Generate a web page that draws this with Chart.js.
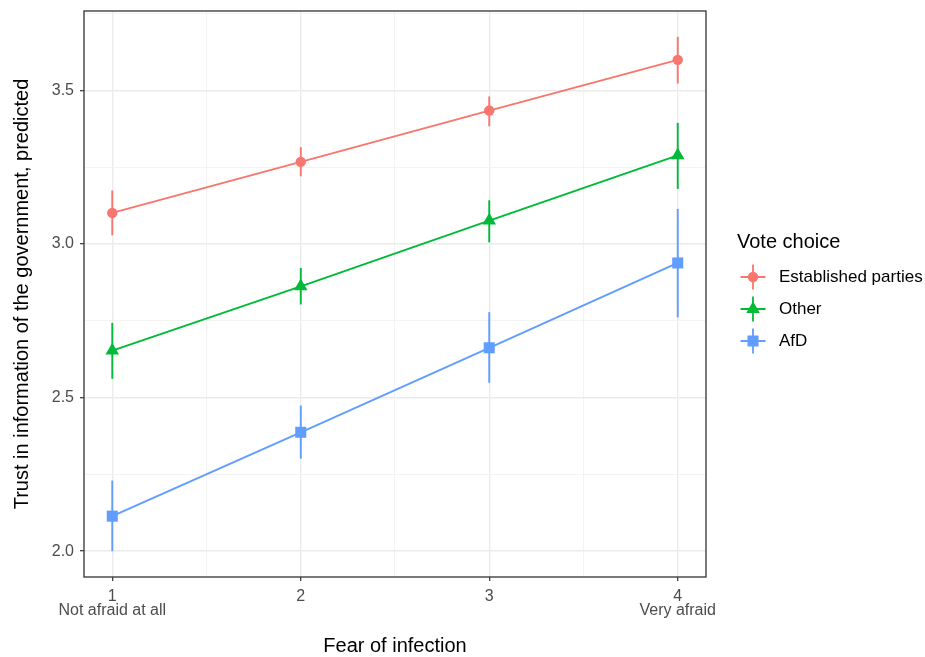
<!DOCTYPE html>
<html>
<head>
<meta charset="utf-8">
<title>Trust in information of the government</title>
<script src="https://cdn.jsdelivr.net/npm/chart.js@4.4.1/dist/chart.umd.min.js"></script>
<style>
  html, body { margin: 0; padding: 0; background: #fff; }
  canvas { display: block; }
</style>
</head>
<body>
<canvas id="trustChart" width="925" height="657"></canvas>
<script>
// x axis: fear of infection (1-4)
var fearLevels = [1, 2, 3, 4];
var fearTickNumbers = ['1', '2', '3', '4'];
var fearTickNotes = ['Not afraid at all', '', '', 'Very afraid'];
var fearMinorTicks = [1.5, 2.5, 3.5];

// y axis ticks
var trustTicks = [2.0, 2.5, 3.0, 3.5];
var trustMinorTicks = [2.25, 2.75, 3.25, 3.75];

var voteGroups = ['Established parties', 'Other', 'AfD'];
var legendTitle = 'Vote choice';

// predicted trust with confidence interval
var establishedFit = [3.101, 3.267, 3.434, 3.599];
var establishedLow = [3.028, 3.220, 3.383, 3.522];
var establishedHigh = [3.174, 3.315, 3.480, 3.674];

var otherFit = [2.653, 2.862, 3.076, 3.288];
var otherLow = [2.561, 2.803, 3.005, 3.179];
var otherHigh = [2.743, 2.922, 3.142, 3.394];

var afdFit = [2.114, 2.387, 2.662, 2.938];
var afdLow = [2.000, 2.301, 2.548, 2.761];
var afdHigh = [2.230, 2.474, 2.778, 3.114];

var FONT = '"Liberation Sans", Arial, Helvetica, sans-serif';
Chart.defaults.font.family = FONT;

function makePoints(fit, low, high) {
    return fearLevels.map(function (x, i) {
        return { x: x, y: fit[i], low: low[i], high: high[i] };
    });
}

function makeDataset(label, color, style, radius, fit, low, high) {
    return {
        label: label,
        data: makePoints(fit, low, high),
        borderColor: color,
        backgroundColor: color,
        borderWidth: 1.9,
        pointStyle: style,
        pointRadius: radius,
        pointHoverRadius: radius,
        pointBorderWidth: 0,
        pointBackgroundColor: color,
        fill: false,
        tension: 0
    };
}

// draw one marker the way chart.js does
function drawMarker(ctx, style, r, x, y) {
    ctx.beginPath();
    if (style === 'triangle') {
        var rad = 0;
        for (var k = 0; k < 3; k++) {
            var px = x + Math.sin(rad) * r, py = y - Math.cos(rad) * r;
            if (k === 0) ctx.moveTo(px, py); else ctx.lineTo(px, py);
            rad += Math.PI * 2 / 3;
        }
        ctx.closePath();
    } else if (style === 'rect') {
        var s = r / Math.SQRT2;
        ctx.rect(x - s, y - s, 2 * s, 2 * s);
    } else {
        ctx.arc(x, y, r, 0, Math.PI * 2);
    }
    ctx.fill();
}

// vertical interval lines
var errorBarPlugin = {
    id: 'errorBars',
    beforeDatasetsDraw: function (chart) {
        var ctx = chart.ctx;
        var xs = chart.scales.x, ys = chart.scales.y;
        chart.data.datasets.forEach(function (ds) {
            ctx.save();
            ctx.strokeStyle = ds.borderColor;
            ctx.lineWidth = 1.9;
            ds.data.forEach(function (pt) {
                var x = xs.getPixelForValue(pt.x);
                ctx.beginPath();
                ctx.moveTo(x, ys.getPixelForValue(pt.low));
                ctx.lineTo(x, ys.getPixelForValue(pt.high));
                ctx.stroke();
            });
            ctx.restore();
        });
    }
};

// panel border and legend
var framePlugin = {
    id: 'frameAndLegend',
    afterDraw: function (chart) {
        var ctx = chart.ctx, a = chart.chartArea;
        ctx.save();
        ctx.strokeStyle = '#333333';
        ctx.lineWidth = 1.3;
        ctx.strokeRect(a.left, a.top, a.right - a.left, a.bottom - a.top);

        ctx.fillStyle = '#000';
        ctx.textAlign = 'left';
        ctx.textBaseline = 'middle';
        ctx.font = '20px ' + FONT;
        ctx.fillText(legendTitle, 737, 242);

        chart.data.datasets.forEach(function (ds, i) {
            var cx = 753, cy = 277 + i * 32;
            ctx.strokeStyle = ds.borderColor;
            ctx.fillStyle = ds.borderColor;
            ctx.lineWidth = 1.8;
            ctx.beginPath();
            ctx.moveTo(cx - 12.5, cy);
            ctx.lineTo(cx + 12.5, cy);
            ctx.moveTo(cx, cy - 12.5);
            ctx.lineTo(cx, cy + 12.5);
            ctx.stroke();
            drawMarker(ctx, ds.pointStyle, ds.pointRadius, cx, cy);
            ctx.fillStyle = '#000';
            ctx.font = '17px ' + FONT;
            ctx.fillText(ds.label, 779, cy);
        });
        ctx.restore();
    }
};

function isMajorX(v) { return fearLevels.indexOf(v) >= 0; }
function isMajorY(v) { return trustTicks.indexOf(v) >= 0; }

var ctx = document.getElementById('trustChart').getContext('2d');
var trustChart = new Chart(ctx, {
    type: 'line',
    data: {
        datasets: [
            makeDataset(voteGroups[0], '#F8766D', 'circle', 5.2, establishedFit, establishedLow, establishedHigh),
            makeDataset(voteGroups[1], '#00BA38', 'triangle', 7.8, otherFit, otherLow, otherHigh),
            makeDataset(voteGroups[2], '#619CFF', 'rect', 7.8, afdFit, afdLow, afdHigh)
        ]
    },
    options: {
        responsive: false,
        devicePixelRatio: 1,
        animation: false,
        layout: { padding: { top: 11, right: 219, bottom: 0, left: 0 } },
        plugins: { legend: { display: false }, tooltip: { enabled: false } },
        scales: {
            x: {
                type: 'linear',
                min: 0.85,
                max: 4.15,
                afterBuildTicks: function (scale) {
                    scale.ticks = fearLevels.concat(fearMinorTicks)
                        .sort(function (a, b) { return a - b; })
                        .map(function (v) { return { value: v }; });
                },
                afterFit: function (scale) {
                    scale.height = 80;
                    scale.paddingLeft = 0;
                    scale.paddingRight = 0;
                },
                border: { display: false },
                grid: {
                    color: function (c) { return isMajorX(c.tick.value) ? '#EBEBEB' : '#F2F2F2'; },
                    lineWidth: function (c) { return isMajorX(c.tick.value) ? 1.4 : 0.9; },
                    tickColor: function (c) { return isMajorX(c.tick.value) ? '#333333' : 'rgba(0,0,0,0)'; },
                    tickLength: 4,
                    tickWidth: 1.2
                },
                ticks: {
                    autoSkip: false,
                    maxRotation: 0,
                    padding: 8,
                    color: '#4D4D4D',
                    font: { size: 16, lineHeight: 0.9 },
                    callback: function (value) {
                        var i = fearLevels.indexOf(value);
                        if (i < 0) return '';
                        return fearTickNotes[i] ? [fearTickNumbers[i], fearTickNotes[i]] : fearTickNumbers[i];
                    }
                },
                title: {
                    display: true,
                    text: 'Fear of infection',
                    color: '#000',
                    font: { size: 20, lineHeight: 1 },
                    padding: { top: 0, bottom: 1 }
                }
            },
            y: {
                type: 'linear',
                min: 1.916,
                max: 3.758,
                afterBuildTicks: function (scale) {
                    scale.ticks = trustTicks.concat(trustMinorTicks)
                        .sort(function (a, b) { return a - b; })
                        .map(function (v) { return { value: v }; });
                },
                afterFit: function (scale) {
                    scale.width = 84;
                    scale.paddingTop = 0;
                    scale.paddingBottom = 0;
                },
                border: { display: false },
                grid: {
                    color: function (c) { return isMajorY(c.tick.value) ? '#EBEBEB' : '#F2F2F2'; },
                    lineWidth: function (c) { return isMajorY(c.tick.value) ? 1.4 : 0.9; },
                    tickColor: function (c) { return isMajorY(c.tick.value) ? '#333333' : 'rgba(0,0,0,0)'; },
                    tickLength: 4,
                    tickWidth: 1.2
                },
                ticks: {
                    autoSkip: false,
                    padding: 6,
                    color: '#4D4D4D',
                    font: { size: 16 },
                    callback: function (value) {
                        return isMajorY(value) ? value.toFixed(1) : '';
                    }
                },
                title: {
                    display: true,
                    text: 'Trust in information of the government, predicted',
                    color: '#000',
                    font: { size: 20, lineHeight: 1 },
                    padding: { top: 12, bottom: 0 }
                }
            }
        }
    },
    plugins: [errorBarPlugin, framePlugin]
});
</script>
</body>
</html>
